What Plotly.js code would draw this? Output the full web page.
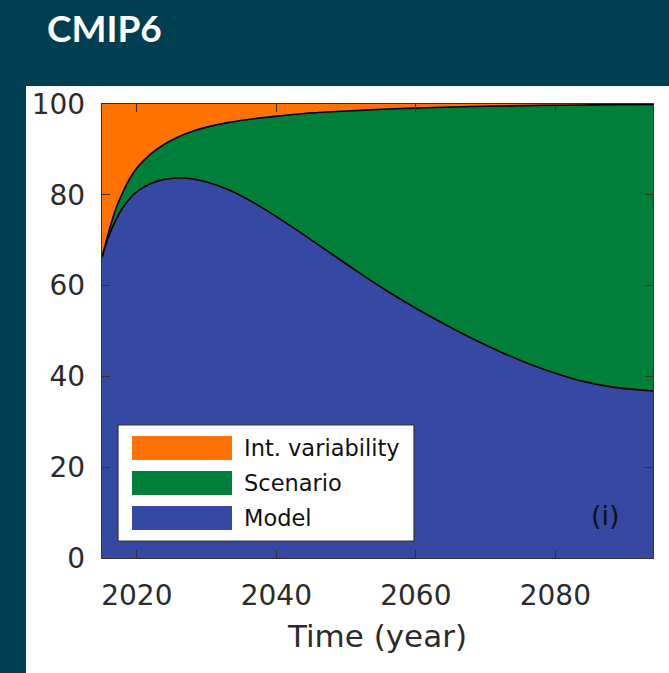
<!DOCTYPE html>
<html>
<head>
<meta charset="utf-8">
<script src="https://cdn.plot.ly/plotly-3.0.1.min.js"></script>
<style>
  html, body { margin: 0; padding: 0; background: #003e52; }
  #chart { width: 669px; height: 673px; }
</style>
</head>
<body>
<div id="chart"></div>
<script>
// ---- Data (percent of total uncertainty) ----
const years = [2015, 2016, 2017, 2018, 2019, 2020, 2022, 2024, 2026, 2028, 2030, 2033, 2036, 2040,
               2044, 2048, 2052, 2056, 2060, 2064, 2068, 2072, 2076, 2080, 2084, 2088, 2094];
const modelShare = [66.3, 71.0, 74.5, 77.2, 79.2, 80.7, 82.5, 83.4, 83.7, 83.5, 82.8, 81.2, 78.9, 75.2,
                    71.1, 66.9, 62.7, 58.7, 55.0, 51.6, 48.4, 45.5, 42.9, 40.7, 38.9, 37.7, 36.8];
const scenarioShare = [0.0, 1.0, 2.5, 3.4, 4.4, 5.2, 6.5, 7.8, 9.1, 10.5, 12.1, 14.7, 17.7, 22.1,
                       26.8, 31.4, 35.9, 40.2, 44.1, 47.7, 51.05, 54.05, 56.75, 59.02, 60.88, 62.13, 63.08];
const intVarShare = [33.7, 28.0, 23.0, 19.4, 16.4, 14.1, 11.0, 8.8, 7.2, 6.0, 5.1, 4.1, 3.4, 2.7,
                     2.1, 1.7, 1.4, 1.1, 0.9, 0.7, 0.55, 0.45, 0.35, 0.28, 0.22, 0.17, 0.12];
const seriesNames = ["Model", "Scenario", "Int. variability"];
const xTicks = [2020, 2040, 2060, 2080];
const yTicks = [0, 20, 40, 60, 80, 100];

// ---- Styles ----
const colors = { model: "#3549a2", scenario: "#007f3b", intvar: "#ff7100" };
const W = 669, H = 673;
const plotL = 102, plotR = 653, plotT = 104, plotB = 558;
const px = x => (x - plotL) / (plotR - plotL);
const py = y => (plotB - y) / (plotB - plotT);

const traces = [
  { x: years, y: modelShare, name: seriesNames[0], type: "scatter", mode: "lines",
    stackgroup: "one", fillcolor: colors.model, line: { color: "#000", width: 1.6, shape: "spline", smoothing: 1 },
    showlegend: false, hoverinfo: "skip" },
  { x: years, y: scenarioShare, name: seriesNames[1], type: "scatter", mode: "lines",
    stackgroup: "one", fillcolor: colors.scenario, line: { color: "#000", width: 1.6, shape: "spline", smoothing: 1 },
    showlegend: false, hoverinfo: "skip" },
  { x: years, y: intVarShare, name: seriesNames[2], type: "scatter", mode: "lines",
    stackgroup: "one", fillcolor: colors.intvar, line: { color: "rgba(0,0,0,0)", width: 0, shape: "spline", smoothing: 1 },
    showlegend: false, hoverinfo: "skip" }
];

const axisCommon = {
  showgrid: false, zeroline: false, showline: true, linecolor: "#333333", linewidth: 1.2,
  mirror: "ticks", ticks: "inside", ticklen: 8, tickwidth: 1.2, tickcolor: "#333333",
  tickfont: { family: "DejaVu Sans", size: 28, color: "#2b2b2b" }
};

// Legend built from shapes + annotations
const legendItems = [
  { name: seriesNames[2], color: colors.intvar, top: 436, bot: 460 },
  { name: seriesNames[1], color: colors.scenario, top: 471, bot: 495 },
  { name: seriesNames[0], color: colors.model, top: 506, bot: 530 }
];

const shapes = [
  { type: "rect", xref: "paper", yref: "paper", layer: "below",
    x0: px(26), x1: px(669), y0: py(673), y1: py(86),
    fillcolor: "#ffffff", line: { width: 0 } },
  { type: "rect", xref: "paper", yref: "paper", layer: "above",
    x0: px(118), x1: px(414), y0: py(541), y1: py(425),
    fillcolor: "#ffffff", line: { color: "#333333", width: 1.2 } }
];
const annotations = [];
legendItems.forEach(it => {
  shapes.push({ type: "rect", xref: "paper", yref: "paper", layer: "above",
    x0: px(132), x1: px(232), y0: py(it.bot), y1: py(it.top),
    fillcolor: it.color, line: { width: 0 } });
  annotations.push({ xref: "paper", yref: "paper", x: px(242), y: py((it.top + it.bot) / 2),
    xanchor: "left", yanchor: "middle", showarrow: false, text: it.name,
    font: { family: "DejaVu Sans", size: 22.5, color: "#111" } });
});
annotations.push({ xref: "paper", yref: "paper", x: px(605), y: py(515),
  xanchor: "center", yanchor: "middle", showarrow: false, text: "(i)",
  font: { family: "DejaVu Sans", size: 27, color: "#111" } });

const layout = {
  width: W, height: H,
  paper_bgcolor: "#003e52", plot_bgcolor: "#ffffff",
  margin: { l: plotL, r: W - plotR, t: plotT, b: H - plotB, pad: 0 },
  title: { text: "<b>CMIP6</b>", xref: "container", yref: "container",
    x: 47 / W, xanchor: "left", y: 1 - 29 / H, yanchor: "middle",
    font: { family: "Lato", size: 37, color: "#ffffff" } },
  xaxis: Object.assign({}, axisCommon, {
    range: [2015, 2094], tickvals: xTicks, ticklabelstandoff: 12,
    title: { text: "Time (year)", font: { family: "DejaVu Sans", size: 31, color: "#2b2b2b" }, standoff: 14 }
  }),
  yaxis: Object.assign({}, axisCommon, {
    range: [0, 100], tickvals: yTicks, ticklabelstandoff: 10
  }),
  shapes: shapes,
  annotations: annotations,
  showlegend: false
};

Plotly.newPlot("chart", traces, layout, { staticPlot: true, displayModeBar: false });
</script>
</body>
</html>
